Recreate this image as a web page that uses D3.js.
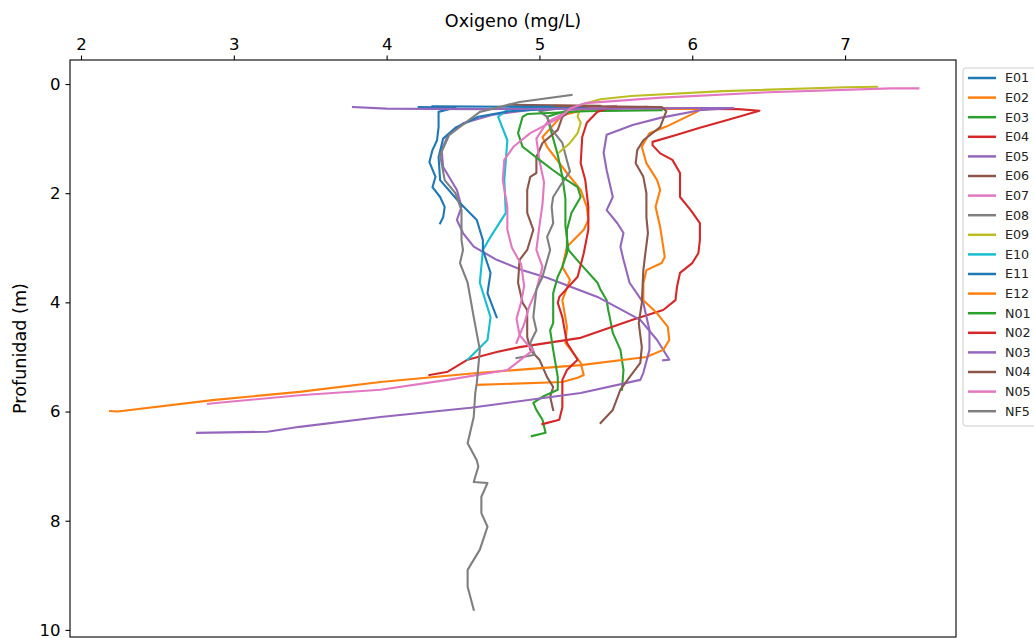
<!DOCTYPE html>
<html>
<head>
<meta charset="utf-8">
<script src="https://cdn.jsdelivr.net/npm/d3@7"></script>
<style>
  body { margin: 0; background: #fff; }
  svg { font-family: "DejaVu Sans", sans-serif; }
</style>
</head>
<body>
<svg id="chart" width="1034" height="638" viewBox="0 0 1034 638"></svg>
<script>
// profiles: [oxigeno mg/L, profundidad m]
const e01 = [[4.21,0.42],[4.45,0.43],[4.34,0.51],[4.34,0.79],[4.33,1.03],[4.3,1.21],[4.28,1.43],[4.32,1.7],[4.3,1.89],[4.35,2.07],[4.38,2.25],[4.37,2.44],[4.35,2.55]];
const e02 = [[5.6,0.43],[5.3,0.47],[5.15,0.57],[5.02,0.97],[5.05,1.15],[5.18,1.63],[5.27,1.94],[5.31,2.25],[5.32,2.49],[5.29,2.67],[5.18,2.98],[5.15,3.35],[5.2,3.59],[5.15,3.96],[5.18,4.45],[5.17,4.74],[5.27,5.11],[5.29,5.33],[5.25,5.38],[5.15,5.46],[4.6,5.51]];
const e03 = [[5.6,0.43],[5.2,0.47],[5.05,0.6],[5.08,0.9],[5.12,1.3],[5.15,1.7],[5.17,2.1],[5.17,2.6],[5.19,3.04],[5.27,3.3],[5.38,3.64],[5.4,3.77],[5.44,3.96],[5.45,4.14],[5.46,4.27],[5.48,4.56],[5.53,4.87],[5.55,5.24],[5.54,5.6]];
const e04 = [[5.3,0.44],[6.3,0.46],[6.44,0.49],[6.23,0.66],[6.05,0.8],[5.9,0.93],[5.74,1.06],[5.74,1.12],[5.79,1.27],[5.87,1.39],[5.92,1.63],[5.92,2.07],[5.99,2.31],[6.05,2.55],[6.05,2.86],[6.04,3.1],[6.0,3.28],[5.92,3.46],[5.9,3.72],[5.89,3.96],[5.81,4.14],[5.61,4.32],[5.27,4.65],[4.87,4.82],[4.72,4.91],[4.53,5.05],[4.4,5.27],[4.28,5.33]];
const e05 = [[5.2,0.42],[4.95,0.47],[4.7,0.56],[4.5,0.72],[4.4,0.95],[4.36,1.21],[4.37,1.52],[4.46,1.94],[4.49,2.25],[4.46,2.49],[4.5,2.73],[4.57,2.98],[4.72,3.22],[4.89,3.41],[5.05,3.55],[5.38,3.9],[5.66,4.32],[5.77,4.69],[5.85,5.05],[5.81,5.06]];
const e06 = [[4.8,0.38],[5.4,0.4],[5.2,0.5],[5.15,0.6],[5.12,0.84],[5.02,1.08],[4.98,1.34],[4.98,1.63],[4.94,1.7],[4.92,1.94],[4.92,2.36],[4.96,2.67],[4.92,3.04],[4.87,3.22],[4.86,3.64],[4.89,4.01],[4.92,4.14],[4.92,4.63],[4.94,4.87],[5.0,5.05],[5.05,5.37],[5.09,5.55],[5.07,5.73],[5.09,5.97]];
const e07 = [[5.5,0.4],[5.2,0.48],[5.05,0.7],[4.98,1.0],[5.0,1.4],[5.03,1.8],[5.02,2.2],[5.0,2.6],[4.98,3.04],[5.02,3.35],[4.98,3.77],[4.93,4.1],[4.9,4.4],[4.87,4.6],[4.85,4.74]];
const e08 = [[5.2,0.42],[5.0,0.5],[5.05,0.6],[5.08,0.83],[5.15,1.08],[5.18,1.4],[5.2,1.6],[5.13,1.89],[5.09,2.07],[5.08,2.25],[5.09,2.55],[5.05,2.8],[5.07,3.04],[5.02,3.53],[4.98,3.77],[4.96,4.27],[4.98,4.51],[4.94,4.74],[4.97,4.96],[4.85,5.02]];
const e09 = [[7.21,0.05],[7.0,0.06],[6.2,0.13],[5.6,0.22],[5.4,0.28],[5.27,0.38],[5.25,0.6],[5.27,0.71],[5.25,0.9],[5.2,1.08],[5.13,1.25]];
const e10 = [[5.2,0.42],[4.8,0.45],[4.73,0.6],[4.79,1.03],[4.77,1.76],[4.78,2.36],[4.68,2.8],[4.63,3.04],[4.61,3.64],[4.68,4.27],[4.66,4.69],[4.53,5.05]];
const e11 = [[4.3,0.41],[5.3,0.42],[5.1,0.45],[4.8,0.5],[4.6,0.6],[4.45,0.8],[4.37,1.0],[4.34,1.34],[4.35,1.76],[4.48,2.18],[4.59,2.49],[4.63,2.86],[4.63,3.04],[4.68,3.46],[4.66,3.83],[4.72,4.27]];
const e12 = [[5.5,0.43],[6.05,0.46],[6.03,0.51],[5.83,0.78],[5.72,0.9],[5.67,1.15],[5.7,1.45],[5.77,1.76],[5.79,1.94],[5.76,2.25],[5.79,2.62],[5.81,2.98],[5.82,3.17],[5.8,3.28],[5.7,3.41],[5.68,3.65],[5.68,3.96],[5.77,4.2],[5.84,4.45],[5.85,4.69],[5.81,4.87],[5.7,5.0],[5.27,5.15],[4.61,5.29],[3.96,5.46],[3.43,5.64],[2.86,5.79],[2.24,6.0],[2.19,5.99]];
const n01 = [[5.8,0.48],[5.3,0.5],[4.92,0.55],[4.89,0.6],[4.86,0.9],[4.89,1.15],[5.0,1.39],[5.09,1.58],[5.18,1.76],[5.25,1.89],[5.27,2.07],[5.21,2.36],[5.18,2.67],[5.18,3.1],[5.15,3.35],[5.12,3.53],[5.09,3.83],[5.09,4.38],[5.07,4.51],[5.09,4.87],[5.12,5.37],[5.12,5.6],[5.02,5.73],[4.96,5.84],[4.98,5.97],[5.02,6.15],[5.04,6.39],[4.95,6.45]];
const n02 = [[5.7,0.42],[5.45,0.45],[5.38,0.51],[5.31,0.71],[5.28,0.97],[5.27,1.45],[5.3,1.76],[5.32,2.25],[5.32,2.67],[5.29,3.1],[5.25,3.53],[5.13,3.9],[5.12,4.01],[5.15,4.27],[5.18,4.74],[5.25,5.05],[5.18,5.24],[5.15,5.42],[5.15,5.92],[5.13,6.15],[5.02,6.23]];
const n03 = [[3.78,0.42],[4.0,0.45],[4.6,0.46],[5.5,0.45],[6.0,0.44],[6.27,0.44],[6.05,0.48],[5.79,0.62],[5.61,0.75],[5.44,0.93],[5.42,1.26],[5.44,1.58],[5.48,2.07],[5.44,2.31],[5.51,2.55],[5.55,2.73],[5.53,2.98],[5.55,3.22],[5.59,3.64],[5.68,4.01],[5.72,4.51],[5.72,4.87],[5.68,5.29],[5.66,5.42],[5.27,5.66],[4.55,5.93],[3.96,6.1],[3.43,6.28],[3.22,6.37],[2.76,6.39]];
const n04 = [[5.1,0.4],[5.8,0.42],[5.83,0.5],[5.79,0.79],[5.68,1.03],[5.64,1.21],[5.63,1.45],[5.68,1.7],[5.7,2.0],[5.7,2.44],[5.71,2.73],[5.69,3.17],[5.68,3.41],[5.67,4.01],[5.65,4.38],[5.67,4.82],[5.66,5.11],[5.59,5.37],[5.53,5.6],[5.48,5.97],[5.4,6.21]];
const n05 = [[7.48,0.08],[7.3,0.08],[6.5,0.15],[5.8,0.25],[5.3,0.35],[5.2,0.45],[5.13,0.62],[4.94,0.9],[4.83,1.15],[4.77,1.39],[4.76,1.76],[4.79,2.25],[4.79,2.67],[4.82,3.0],[4.88,3.3],[4.9,3.7],[4.88,4.0],[4.85,4.3],[4.87,4.6],[4.93,4.8],[4.96,4.87],[4.79,5.24],[4.4,5.42],[3.96,5.6],[3.43,5.7],[2.9,5.84],[2.83,5.86]];
const nf5 = [[5.21,0.2],[4.87,0.33],[4.61,0.51],[4.41,0.93],[4.35,1.3],[4.38,1.76],[4.45,2.0],[4.49,2.31],[4.49,2.86],[4.5,3.04],[4.48,3.28],[4.53,3.64],[4.57,4.27],[4.61,4.87],[4.59,5.48],[4.58,5.66],[4.57,6.1],[4.53,6.58],[4.59,6.89],[4.6,7.01],[4.57,7.29],[4.66,7.31],[4.62,7.56],[4.62,7.86],[4.66,8.11],[4.61,8.53],[4.53,8.9],[4.53,9.21],[4.57,9.63]];

const names = ["E01","E02","E03","E04","E05","E06","E07","E08","E09","E10","E11","E12","N01","N02","N03","N04","N05","NF5"];
const profiles = [e01,e02,e03,e04,e05,e06,e07,e08,e09,e10,e11,e12,n01,n02,n03,n04,n05,nf5];
const xTicks = [2,3,4,5,6,7];
const yTicks = [0,2,4,6,8,10];

const svg = d3.select("#chart");
const mLeft = 70, mRight = 956, mTop = 60, mBottom = 637;

let x = d3.scaleLinear().domain([1.928, 7.726]).range([mLeft, mRight]);
let y = d3.scaleLinear().domain([-0.44, 10.13]).range([mTop, mBottom]);
// matplotlib tab10 cycle
let color = d3.scaleOrdinal().domain(names).range(d3.schemeCategory10.concat(d3.schemeCategory10));

let line = d3.line()
    .x(function(d){ return x(d[0]) })
    .y(function(d){ return y(d[1]) });

let plot = svg.append("g");
plot.append("clipPath").attr("id","clip")
    .append("rect").attr("x",mLeft).attr("y",mTop).attr("width",mRight-mLeft).attr("height",mBottom-mTop);

plot.append("g").attr("clip-path","url(#clip)")
    .selectAll("path")
    .data(profiles)
    .enter()
    .append("path")
    .attr("d", line)
    .attr("fill","none")
    .attr("stroke",function(d,i){ return color(names[i]) })
    .attr("stroke-width",2.1)
    .attr("stroke-linejoin","round")
    .attr("stroke-linecap","square");

// frame
svg.append("rect")
    .attr("x",mLeft).attr("y",mTop)
    .attr("width",mRight-mLeft).attr("height",mBottom-mTop)
    .attr("fill","none").attr("stroke","#000").attr("stroke-width",1.1);

// axes
let xAxis = svg.append("g")
    .attr("transform",`translate(0,${mTop})`)
    .call(d3.axisTop(x).tickValues(xTicks).tickSize(4.5).tickPadding(6).tickFormat(d3.format("d")));
let yAxis = svg.append("g")
    .attr("transform",`translate(${mLeft},0)`)
    .call(d3.axisLeft(y).tickValues(yTicks).tickSize(4.5).tickPadding(5).tickFormat(d3.format("d")));
[xAxis,yAxis].forEach(function(a){
    a.select(".domain").remove();
    a.selectAll("line").attr("stroke","#000").attr("stroke-width",1.1);
    a.selectAll("text").attr("fill","#000").style("font-size","16.5px").style("font-family","DejaVu Sans");
});

svg.append("text")
    .attr("x",(mLeft+mRight)/2).attr("y",27)
    .attr("text-anchor","middle")
    .style("font-size","17.6px")
    .text("Oxigeno (mg/L)");
svg.append("text")
    .attr("transform",`translate(26,${(mTop+mBottom)/2}) rotate(-90)`)
    .attr("text-anchor","middle")
    .style("font-size","17.6px")
    .text("Profunidad (m)");

// legend
let legend = svg.append("g");
legend.append("rect")
    .attr("x",963).attr("y",68).attr("width",90).attr("height",358).attr("rx",3)
    .attr("fill","#fff").attr("stroke","#ccc").attr("stroke-width",1);
let items = legend.selectAll(".item")
    .data(names)
    .enter()
    .append("g")
    .attr("transform",function(d,i){ return `translate(0,${78 + i*19.6})` });
items.append("line")
    .attr("x1",968).attr("x2",996)
    .attr("stroke",function(d){ return color(d) })
    .attr("stroke-width",2.5);
items.append("text")
    .attr("x",1005).attr("dy","0.35em")
    .style("font-size","12.7px")
    .attr("fill","#222")
    .text(function(d){ return d });
</script>
</body>
</html>
